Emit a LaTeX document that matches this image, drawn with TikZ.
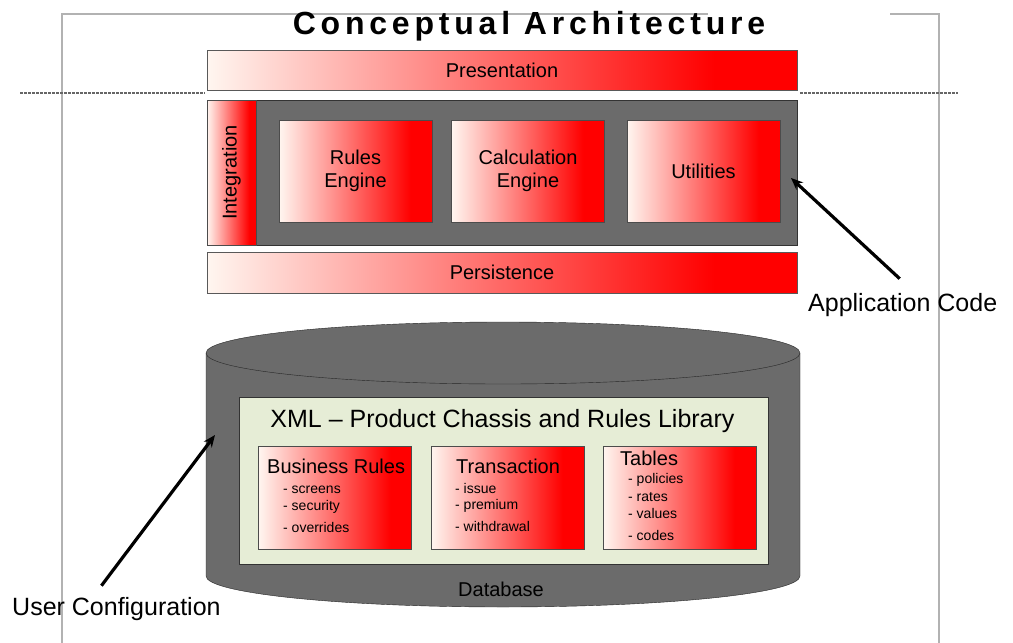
\documentclass[tikz,border=0pt]{standalone}
\usepackage{fontspec}
\setmainfont{Liberation Sans}
\usetikzlibrary{arrows.meta,positioning}

\definecolor{dbgray}{HTML}{6B6B6B}
\definecolor{xmlfill}{HTML}{E6EDD6}
\definecolor{fadelo}{HTML}{FFF6F0}
\pgfdeclarehorizontalshading{redfade}{100bp}{color(0bp)=(fadelo); color(25bp)=(fadelo); color(68bp)=(red); color(100bp)=(red)}

\begin{document}
\begin{tikzpicture}[
    x=1pt, y=-1pt,
    layer/.style={draw=gray!70!black, shade, shading=redfade, inner sep=0pt, minimum width=590pt, minimum height=41pt, font=\fontsize{20}{23}\selectfont},
    module/.style={draw=gray!60!black, shade, shading=redfade, inner sep=0pt, minimum width=153pt, minimum height=102pt, align=center, font=\fontsize{20}{23}\selectfont},
    libbox/.style={draw=gray!60!black, shade, shading=redfade, inner sep=0pt, minimum width=153pt, minimum height=103pt},
    head/.style={anchor=base west, inner sep=0pt, font=\fontsize{20}{23}\selectfont},
    item/.style={anchor=base west, inner sep=0pt, font=\fontsize{14}{16}\selectfont},
    callout/.style={anchor=base west, inner sep=1pt, font=\fontsize{25}{29}\selectfont},
    pointer/.style={-{Stealth[length=12pt,width=10pt]}, line width=3.2pt, black}
]
\useasboundingbox (0,0) rectangle (1013,643);

% Page frame
\draw[gray!60, line width=1.5pt] (62,643) -- (62,14) -- (708,14);
\draw[gray!60, line width=1.5pt] (890,14) -- (939,14) -- (939,643);

% Title
\node[anchor=base, inner sep=0pt, font=\fontsize{32}{38}\bfseries\addfontfeature{LetterSpace=15}] (title) at (529,34) {Conceptual Architecture};

% Tier separator
\draw[gray!80!black, dash pattern=on 3pt off 1pt, line width=1.6pt] (20,93) -- (205,93);
\draw[gray!80!black, dash pattern=on 3pt off 1pt, line width=1.6pt] (800,93) -- (958,93);

% Application tiers
\node[layer, minimum height=40pt] (present) at (502,70) {Presentation};
\node[draw=gray!40!black, fill=dbgray, minimum width=590pt, minimum height=145pt, inner sep=0pt] (appbox) at (502,172.5) {};
\node[draw=gray!60!black, shade, shading=redfade, minimum width=49pt, minimum height=145pt, inner sep=0pt, font=\fontsize{20}{23}\selectfont] (integ) at (231.5,172.5) {\rotatebox{90}{Integration}};
\node[module] (rules) at (355.5,171) {Rules\\Engine};
\node[module] (calc) at (528,171) {Calculation\\Engine};
\node[module] (utils) at (703.5,171) {Utilities};
\node[layer] (persist) at (502,272.5) {Persistence};

% Database cylinder
\draw[draw=gray!30!black, fill=dbgray] (206,353) -- (206,576)
    arc[start angle=180, end angle=360, x radius=297pt, y radius=31pt] -- (800,353)
    arc[start angle=0, end angle=180, x radius=297pt, y radius=31pt] -- cycle;
\draw[gray!30!black] (206,353) arc[start angle=180, end angle=360, x radius=297pt, y radius=31pt];
\node[anchor=base, inner sep=0pt, font=\fontsize{20}{23}\selectfont] (dblabel) at (501,596) {Database};

% Product library
\node[draw=gray!40!black, fill=xmlfill, minimum width=529pt, minimum height=167pt, inner sep=0pt] (xmllib) at (503.5,480.5) {};
\node[anchor=base, inner sep=0pt, font=\fontsize{25}{29}\selectfont] (xmltitle) at (502.5,427) {XML -- Product Chassis and Rules Library};
\node[libbox] (busrules) at (335,497.5) {};
\node[libbox] (trans) at (507.5,497.5) {};
\node[libbox] (tables) at (679.5,497.5) {};

\node[head] (busrules-h) at (267,473) {Business Rules};
\foreach \t/\y in {screens/493, security/510, overrides/532} {
    \node[item] (br-\t) at (283,\y) {- \t};
}
\node[head] (trans-h) at (456,473) {Transaction};
\foreach \t/\y in {issue/493, premium/509, withdrawal/531} {
    \node[item] (tr-\t) at (455,\y) {- \t};
}
\node[head] (tables-h) at (620,465) {Tables};
\foreach \t/\y in {policies/483, rates/501, values/518, codes/540} {
    \node[item] (tb-\t) at (628,\y) {- \t};
}

% Callouts
\node[callout] (appcode) at (807,311) {Application Code};
\coordinate (apptip) at (791,178);
\draw[pointer] ([xshift=-3pt,yshift=13pt]appcode.north) -- (apptip);

\node[callout] (usercfg) at (11,615) {User Configuration};
\coordinate (usertip) at (215,435);
\draw[pointer] ([xshift=-15pt,yshift=10pt]usercfg.north) -- (usertip);

\end{tikzpicture}
\end{document}
